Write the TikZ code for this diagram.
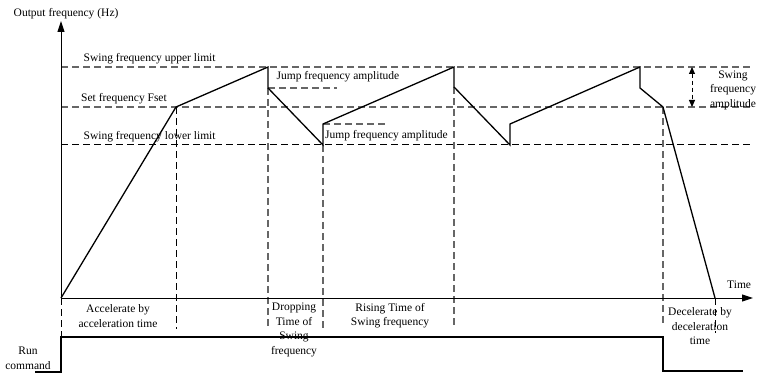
\documentclass[tikz,border=0pt]{standalone}
\usepackage{fontspec}
\setmainfont{Liberation Serif}
\usetikzlibrary{arrows.meta}
\begin{document}
\begin{tikzpicture}[x=1pt,y=-1pt,
  lbl/.style={inner sep=0pt,font=\fontsize{11.5}{14.5}\selectfont},
  curve/.style={line width=1.3pt,line join=miter},
  axis/.style={line width=1pt},
  dblack/.style={dash pattern=on 7pt off 4pt,line width=1pt,black},
  dgray/.style={dash pattern=on 7pt off 4pt,line width=1.1pt,black!60},
  tip/.style={-{Triangle[length=11pt,width=7pt]}}
]
\path[use as bounding box] (0,0) rectangle (760,374);
% key points
\coordinate (O) at (61,298);
\coordinate (A) at (176,107);
\coordinate (B) at (268,67);
\coordinate (C) at (268,88);
\coordinate (D) at (323,145);
\coordinate (E) at (323,124);
\coordinate (F) at (454,67);
\coordinate (G) at (454,87);
\coordinate (H) at (510,145);
\coordinate (I) at (510,124);
\coordinate (J) at (640,67);
\coordinate (K) at (640,88);
\coordinate (L) at (663,107);
\coordinate (M) at (715,298);
\coordinate (ytop) at (61,21);
\coordinate (xend) at (753,298);
% horizontal reference lines
\draw[dgray] (61,67) -- (753,67);
\draw[dgray] (61,107) -- (753,107);
\draw[dblack] (61,145) -- (753,145);
\draw[dgray] (C) -- (337,88);
\draw[dgray] (E) -- (386,124);
% vertical dashed lines
\draw[dblack] (O) -- (61,337);
\draw[dblack] (A) -- (176,329);
\draw[dgray] (C) -- (268,327);
\draw[dgray] (D) -- (323,328);
\draw[dgray] (G) -- (454,327);
\draw[dgray] (L) -- (663,323);
\draw[dblack] (M) -- (715,333);
% axes
\draw[axis,tip] (O) -- (ytop);
\draw[axis,tip] (O) -- (xend);
% output curve
\draw[curve] (O) -- (A) -- (B) -- (C) -- (D) -- (E) -- (F) -- (G) -- (H) -- (I) -- (J) -- (K) -- (L) -- (M);
% run command
\coordinate (r0) at (35,372);
\coordinate (r1) at (61,372);
\coordinate (r2) at (61,337);
\coordinate (r3) at (663,337);
\coordinate (r4) at (663,371);
\coordinate (r5) at (743,371);
\draw[line width=1.2pt] (r0) -- (r1) -- (r2) -- (r3) -- (r4) -- (r5);
% swing amplitude arrow
\coordinate (sa1) at (692,67);
\coordinate (sa2) at (692,107);
\draw[dblack,dash pattern=on 4pt off 3pt,{Triangle[length=7pt,width=6pt]}-{Triangle[length=7pt,width=6pt]}] (sa1) -- (sa2);
% labels (multi-line: base = last line)
\node[lbl,anchor=base west] (tyax) at (13.5,16.5) {Output frequency (Hz)};
\node[lbl,anchor=base west] (tup) at (83.5,61.5) {Swing frequency upper limit};
\node[lbl,anchor=base west] (tset) at (81,101.5) {Set frequency Fset};
\node[lbl,anchor=base west] (tlow) at (83.5,139.5) {Swing frequency lower limit};
\node[lbl,anchor=base west] (tj1) at (276.5,80) {Jump frequency amplitude};
\node[lbl,anchor=base west] (tj2) at (325,139) {Jump frequency amplitude};
\node[lbl,anchor=base west] (ttime) at (727,288) {Time};
\node[lbl,align=center,anchor=base] (tacc) at (118,327) {Accelerate by\\acceleration time};
\node[lbl,align=center,anchor=base] (tdrop) at (294,354) {Dropping\\Time of\\Swing\\frequency};
\node[lbl,align=center,anchor=base] (trise) at (390,325.5) {Rising Time of\\Swing frequency};
\node[lbl,align=center,anchor=base] (tdec) at (700,344.5) {Decelerate by\\deceleration\\time};
\node[lbl,align=center,anchor=base] (trun) at (28,369) {Run\\command};
\node[lbl,align=center,anchor=base] (tsa) at (733,107.5) {Swing\\frequency\\amplitude};
\end{tikzpicture}
\end{document}
